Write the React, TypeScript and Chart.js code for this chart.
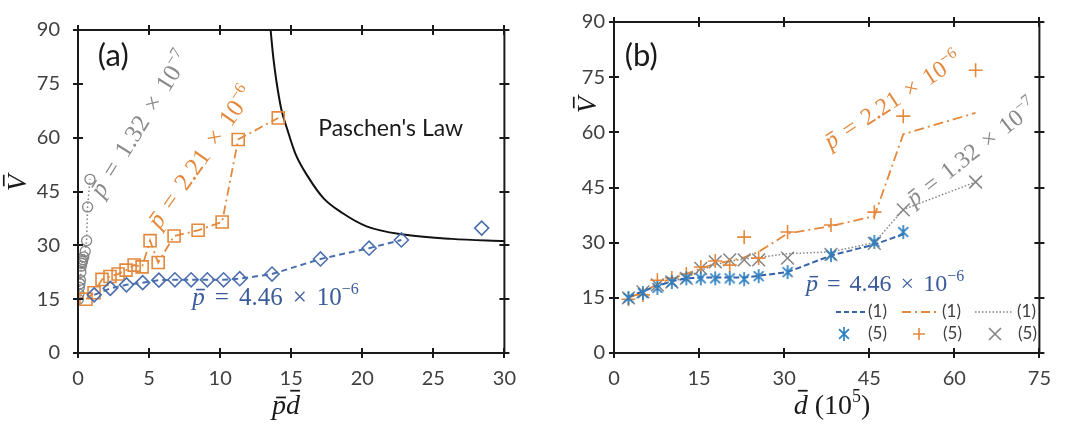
import React, { useEffect, useRef } from "react";
import { Chart, registerables } from "chart.js";

Chart.register(...registerables);

// ---------------- tick values ----------------
const xTicksA = [0, 5, 10, 15, 20, 25, 30];
const xTicksB = [0, 15, 30, 45, 60, 75];
const yTicks = [0, 15, 30, 45, 60, 75, 90];

// ---------------- panel (a): V vs p·d ----------------
const pdBlue = [1.14, 2.27, 3.41, 4.55, 5.69, 6.82, 7.96, 9.1, 10.24, 11.38, 13.65, 17.06, 20.48, 22.75];
const vBlue = [16.2, 18.0, 19.0, 19.6, 20.3, 20.4, 20.4, 20.4, 20.4, 20.7, 22.0, 26.2, 29.2, 31.5];
const pdBlueExtra = [28.4];
const vBlueExtra = [34.8];
const pdOrange = [0.56, 1.13, 1.69, 2.25, 2.82, 3.38, 3.95, 4.51, 5.07, 5.64, 6.76, 8.45, 10.14, 11.27, 14.09];
const vOrange = [15.0, 16.8, 20.5, 21.3, 22.0, 23.1, 24.5, 24.0, 31.3, 25.2, 32.6, 34.2, 36.5, 59.5, 65.5];
const pdGray = [0.034, 0.067, 0.101, 0.135, 0.168, 0.202, 0.236, 0.27, 0.303, 0.337, 0.404, 0.505, 0.606, 0.673, 0.842];
const vGray = [15.0, 16.5, 18.3, 19.3, 20.3, 22.5, 24.2, 25.0, 25.5, 26.0, 26.8, 28.3, 31.3, 40.7, 48.4];
const pdPaschen = [13.55, 13.75, 13.95, 14.3, 14.75, 15.3, 16.2, 17.3, 18.6, 20.3, 22.9, 26.3, 30.0];
const vPaschen = [90, 82, 76, 68, 62, 55.5, 49, 43, 39, 35.3, 33.0, 31.8, 31.2];

// ---------------- panel (b): V vs d ----------------
const dVals = [2.55, 5.1, 7.65, 10.2, 12.75, 15.3, 17.85, 20.4, 22.95, 25.5, 30.6, 38.25, 45.9, 51.0, 63.75];
const blueLine1 = [15.2, 16.8, 18.2, 19.5, 20.3, 20.5, 20.5, 20.5, 20.5, 21.0, 22.0, 26.5, 29.5, 32.3];
const blueMark5 = [15.0, 16.3, 17.7, 19.3, 20.3, 20.3, 20.3, 20.3, 20.1, 20.9, 22.0, 26.6, 30.2, 32.9];
const orangeLine1 = [15.0, 16.5, 18.8, 20.3, 21.5, 23.0, 24.3, 25.0, 26.0, 27.5, 32.5, 34.5, 37.2, 59.5, 65.3];
const orangeMark5 = [14.6, 15.8, 19.8, 20.4, 21.5, 23.4, 25.0, 23.9, 31.5, 25.8, 32.9, 34.8, 38.3, 64.4, 76.9];
const grayLine1 = [15.0, 16.6, 18.5, 19.5, 20.5, 22.5, 24.0, 25.0, 25.5, 26.0, 27.0, 27.5, 30.0, 39.0, 46.5];
const grayMark5 = [15.0, 16.6, 18.5, 19.3, 20.3, 23.0, 24.8, 25.3, 25.3, 25.3, 25.8, 26.8, 29.8, 38.9, 46.5];

// ---------------- styles ----------------
const FONT_UI = "Lato, 'Open Sans', sans-serif";
const FONT_MATH = "'Liberation Serif', 'DejaVu Serif', serif";
const TICK_COLOR = "#404040";
const BLUE_A = "#4b6fae";
const BLUE_TXT = "#3b5b9b";
const BLUE_B = "#2e7fc0";
const BLUE_B_LINE = "#3563aa";
const ORANGE = "#e4883c";
const GRAY = "#848484";
const GRAY_TXT = "#8a8a8a";

const pts = (xs: number[], ys: number[]) => ys.map((y, i) => ({ x: xs[i], y }));

type Part = { t?: string; italic?: boolean; bar?: number; sup?: boolean; gap?: number };
type Item = {
  x: number; y: number; px?: boolean; angle: number; parts: Part[];
  size: number; color: string; family: string;
};

function drawRich(ctx: CanvasRenderingContext2D, cx: number, cy: number, angle: number,
  parts: Part[], size: number, color: string, family: string) {
  ctx.save();
  ctx.translate(cx, cy);
  ctx.rotate((angle * Math.PI) / 180);
  ctx.fillStyle = color;
  ctx.strokeStyle = color;
  ctx.textBaseline = "alphabetic";
  ctx.textAlign = "left";
  const fontOf = (p: Part) => `${p.italic ? "italic " : ""}${p.sup ? Math.round(size * 0.65) : size}px ${family}`;
  const widths = parts.map((p) => {
    if (p.gap) return p.gap;
    ctx.font = fontOf(p);
    return ctx.measureText(p.t || "").width;
  });
  const total = widths.reduce((a, b) => a + b, 0);
  let x = -total / 2;
  const base = size * 0.33;
  parts.forEach((p, i) => {
    if (!p.gap) {
      ctx.font = fontOf(p);
      const y = p.sup ? base - size * 0.42 : base;
      ctx.fillText(p.t || "", x, y);
      if (p.bar) {
        const w = widths[i];
        ctx.lineWidth = Math.max(1, size / 16);
        ctx.beginPath();
        ctx.moveTo(x + w * 0.3, base - size * p.bar);
        ctx.lineTo(x + w * 1.0, base - size * p.bar);
        ctx.stroke();
      }
    }
    x += widths[i];
  });
  ctx.restore();
}

const pLabel = (val: string, exp: string, gap: number): Part[] => [
  { t: "p", italic: true, bar: 0.6 }, { gap }, { t: "=" }, { gap }, { t: val }, { gap },
  { t: "×" }, { gap }, { t: "10" }, { t: "−" + exp, sup: true },
];

function makeTextPlugin(items: Item[]) {
  return {
    id: "richText",
    afterDraw(chart: any) {
      const ctx = chart.ctx as CanvasRenderingContext2D;
      items.forEach((it) => {
        const cx = it.px ? it.x : chart.scales.x.getPixelForValue(it.x);
        const cy = it.px ? it.y : chart.scales.y.getPixelForValue(it.y);
        drawRich(ctx, cx, cy, it.angle, it.parts, it.size, it.color, it.family);
      });
    },
  };
}

const framePlugin = {
  id: "frameTicks",
  afterDraw(chart: any) {
    const ctx = chart.ctx as CanvasRenderingContext2D;
    const { left, right, top, bottom } = chart.chartArea;
    const xs = chart.scales.x;
    const ys = chart.scales.y;
    ctx.save();
    ctx.strokeStyle = "#1a1a1a";
    ctx.lineWidth = 2;
    ctx.beginPath();
    ctx.rect(left, top, right - left, bottom - top);
    const t = 5;
    xs.ticks.forEach((tk: any) => {
      const p = Math.round(xs.getPixelForValue(tk.value));
      ctx.moveTo(p, bottom - t); ctx.lineTo(p, bottom + t);
      ctx.moveTo(p, top - t); ctx.lineTo(p, top + t);
    });
    ys.ticks.forEach((tk: any) => {
      const p = Math.round(ys.getPixelForValue(tk.value));
      ctx.moveTo(left - t, p); ctx.lineTo(left + t, p);
      ctx.moveTo(right - t, p); ctx.lineTo(right + t, p);
    });
    ctx.stroke();
    ctx.restore();
  },
};

function makeAsterisk(color: string, size: number) {
  const c = document.createElement("canvas");
  c.width = size; c.height = size;
  const g = c.getContext("2d")!;
  g.strokeStyle = color; g.lineWidth = 1.7;
  const m = size / 2, r = size / 2 - 1;
  const dx = r * Math.cos(Math.PI / 4), dy = r * Math.sin(Math.PI / 4);
  g.beginPath();
  g.moveTo(m, m - r); g.lineTo(m, m + r);
  g.moveTo(m - dx, m - dy); g.lineTo(m + dx, m + dy);
  g.moveTo(m - dx, m + dy); g.lineTo(m + dx, m - dy);
  g.stroke();
  return c;
}

function makeLegendPlugin(star: HTMLCanvasElement) {
  return {
    id: "legendB",
    afterDraw(chart: any) {
      const ctx = chart.ctx as CanvasRenderingContext2D;
      const r1 = 312, r2 = 334;
      ctx.save();
      ctx.font = `17px ${FONT_UI}`;
      ctx.fillStyle = TICK_COLOR;
      ctx.textBaseline = "middle";
      const line = (x0: number, x1: number, color: string, dash: number[], w: number) => {
        ctx.save();
        ctx.strokeStyle = color; ctx.lineWidth = w; ctx.setLineDash(dash);
        ctx.beginPath(); ctx.moveTo(x0, r1); ctx.lineTo(x1, r1); ctx.stroke();
        ctx.restore();
      };
      line(306, 337, BLUE_B_LINE, [5, 3], 2);
      line(372, 410, ORANGE, [9, 4, 2, 4], 1.8);
      line(445, 483, GRAY, [1.5, 2], 1.5);
      ctx.fillText("(1)", 338, r1);
      ctx.fillText("(1)", 412, r1);
      ctx.fillText("(1)", 487, r1);
      ctx.drawImage(star, 314 - star.width / 2, r2 - star.height / 2);
      ctx.strokeStyle = ORANGE; ctx.lineWidth = 1.6;
      ctx.beginPath();
      ctx.moveTo(389 - 6, r2); ctx.lineTo(389 + 6, r2);
      ctx.moveTo(389, r2 - 6); ctx.lineTo(389, r2 + 6);
      ctx.stroke();
      ctx.strokeStyle = GRAY;
      ctx.beginPath();
      ctx.moveTo(465 - 6, r2 - 6); ctx.lineTo(465 + 6, r2 + 6);
      ctx.moveTo(465 - 6, r2 + 6); ctx.lineTo(465 + 6, r2 - 6);
      ctx.stroke();
      ctx.fillText("(5)", 338, r2);
      ctx.fillText("(5)", 413, r2);
      ctx.fillText("(5)", 488, r2);
      ctx.restore();
    },
  };
}

function scales(xTicks: number[], xMax: number, yWidth: number, yPad: number) {
  const tickFont = { family: FONT_UI, size: 20 };
  return {
    x: {
      type: "linear" as const, min: 0, max: xMax,
      afterBuildTicks: (s: any) => { s.ticks = xTicks.map((v) => ({ value: v })); },
      afterFit: (s: any) => { s.height = 75; },
      grid: { display: false, drawTicks: false },
      border: { display: false },
      ticks: { padding: 14, font: tickFont, color: TICK_COLOR, maxRotation: 0, autoSkip: false },
    },
    y: {
      type: "linear" as const, min: 0, max: 90,
      afterBuildTicks: (s: any) => { s.ticks = yTicks.map((v) => ({ value: v })); },
      afterFit: (s: any) => { s.width = yWidth; },
      grid: { display: false, drawTicks: false },
      border: { display: false },
      ticks: { padding: yPad, font: tickFont, color: TICK_COLOR, autoSkip: false },
    },
  };
}

const commonOpts = {
  responsive: false,
  animation: false as const,
  events: [] as any[],
  devicePixelRatio: 1,
};

function configA(): any {
  const items: Item[] = [
    { x: 2.48, y: 82.9, angle: 0, parts: [{ t: "(a)" }], size: 31, color: "#1a1a1a", family: FONT_UI },
    { x: 22.0, y: 62.5, angle: 0, parts: [{ t: "Paschen's Law" }], size: 23, color: "#1a1a1a", family: FONT_UI },
    { x: 4.34, y: 63.9, angle: -58, parts: pLabel("1.32", "7", 10), size: 25, color: GRAY_TXT, family: FONT_MATH },
    { x: 8.62, y: 54.6, angle: -55, parts: pLabel("2.21", "6", 10), size: 25, color: ORANGE, family: FONT_MATH },
    { x: 13.9, y: 15.8, angle: 0, parts: pLabel("4.46", "6", 10), size: 25, color: BLUE_TXT, family: FONT_MATH },
    { x: 17, y: 183, px: true, angle: -90, parts: [{ t: "V", italic: true, bar: 0.82 }], size: 27, color: "#1a1a1a", family: FONT_MATH },
    { x: 286, y: 405, px: true, angle: 0, parts: [{ t: "p", italic: true, bar: 0.6 }, { t: "d", italic: true, bar: 0.84 }], size: 28, color: "#1a1a1a", family: FONT_MATH },
  ];
  return {
    type: "scatter",
    data: {
      datasets: [
        {
          data: pts(pdBlue, vBlue), showLine: true, borderColor: BLUE_A, borderWidth: 2, borderDash: [6, 4],
          pointStyle: "rectRot", pointRadius: 7, pointBorderColor: BLUE_A, pointBorderWidth: 1.6,
          pointBackgroundColor: "rgba(0,0,0,0)", tension: 0,
        },
        {
          data: pts(pdBlueExtra, vBlueExtra), showLine: false,
          pointStyle: "rectRot", pointRadius: 7, pointBorderColor: BLUE_A, pointBorderWidth: 1.6,
          pointBackgroundColor: "rgba(0,0,0,0)",
        },
        {
          data: pts(pdOrange, vOrange), showLine: true, borderColor: ORANGE, borderWidth: 1.8, borderDash: [9, 4, 2, 4],
          pointStyle: "rect", pointRadius: 8.5, pointBorderColor: ORANGE, pointBorderWidth: 1.6,
          pointBackgroundColor: "rgba(0,0,0,0)", tension: 0,
        },
        {
          data: pts(pdGray, vGray), showLine: true, borderColor: GRAY, borderWidth: 1.5, borderDash: [1.5, 2.5],
          pointStyle: "circle", pointRadius: 5, pointBorderColor: GRAY, pointBorderWidth: 1.3,
          pointBackgroundColor: "rgba(0,0,0,0)", tension: 0,
        },
        {
          data: pts(pdPaschen, vPaschen), showLine: true, borderColor: "#111111", borderWidth: 2,
          pointRadius: 0, cubicInterpolationMode: "monotone",
        },
      ],
    },
    options: {
      ...commonOpts,
      layout: { padding: { top: 22, right: 17, left: 0, bottom: 0 } },
      plugins: { legend: { display: false }, tooltip: { enabled: false } },
      scales: scales(xTicksA, 30, 78, 18),
    },
    plugins: [framePlugin, makeTextPlugin(items)],
  };
}

function configB(): any {
  const star = makeAsterisk(BLUE_B, 16);
  const items: Item[] = [
    { x: 4.8, y: 80.7, angle: 0, parts: [{ t: "(b)" }], size: 31, color: "#1a1a1a", family: FONT_UI },
    { x: 49.1, y: 68.8, angle: -33, parts: pLabel("2.21", "6", 9), size: 24, color: ORANGE, family: FONT_MATH },
    { x: 63.0, y: 54.6, angle: -38, parts: pLabel("1.32", "7", 9), size: 24, color: GRAY_TXT, family: FONT_MATH },
    { x: 47.8, y: 19.0, angle: 0, parts: pLabel("4.46", "6", 9), size: 24, color: BLUE_TXT, family: FONT_MATH },
    { x: 57, y: 105, px: true, angle: -90, parts: [{ t: "V", italic: true, bar: 0.82 }], size: 27, color: "#1a1a1a", family: FONT_MATH },
    {
      x: 302, y: 405, px: true, angle: 0,
      parts: [{ t: "d", italic: true, bar: 0.84 }, { gap: 7 }, { t: "(10" }, { t: "5", sup: true }, { t: ")" }],
      size: 28, color: "#1a1a1a", family: FONT_MATH,
    },
  ];
  return {
    type: "scatter",
    data: {
      datasets: [
        {
          data: pts(dVals, blueMark5), showLine: false, pointStyle: star, pointRadius: 8,
        },
        {
          data: pts(dVals, orangeMark5), showLine: false, pointStyle: "cross", pointRadius: 7,
          pointBorderColor: ORANGE, pointBorderWidth: 1.6,
        },
        {
          data: pts(dVals, grayMark5), showLine: false, pointStyle: "crossRot", pointRadius: 9,
          pointBorderColor: GRAY, pointBorderWidth: 1.5,
        },
        {
          data: pts(dVals, blueLine1), showLine: true, borderColor: BLUE_B_LINE, borderWidth: 2,
          borderDash: [6, 3], pointRadius: 0, tension: 0,
        },
        {
          data: pts(dVals, orangeLine1), showLine: true, borderColor: ORANGE, borderWidth: 1.8,
          borderDash: [10, 4, 2, 4], pointRadius: 0, tension: 0,
        },
        {
          data: pts(dVals, grayLine1), showLine: true, borderColor: GRAY, borderWidth: 1.5,
          borderDash: [1.5, 2], pointRadius: 0, tension: 0,
        },
      ],
    },
    options: {
      ...commonOpts,
      layout: { padding: { top: 22, right: 15, left: 0, bottom: 0 } },
      plugins: { legend: { display: false }, tooltip: { enabled: false } },
      scales: scales(xTicksB, 75, 84, 9),
    },
    plugins: [framePlugin, makeTextPlugin(items), makeLegendPlugin(star)],
  };
}

export default function App() {
  const refA = useRef<HTMLCanvasElement>(null);
  const refB = useRef<HTMLCanvasElement>(null);
  useEffect(() => {
    const a = new Chart(refA.current!, configA());
    const b = new Chart(refB.current!, configB());
    return () => {
      a.destroy();
      b.destroy();
    };
  }, []);
  return (
    <div style={{ position: "fixed", left: 0, top: 0, width: 1065, height: 428, background: "#ffffff" }}>
      <canvas ref={refA} width={530} height={428}
        style={{ position: "absolute", left: 0, top: 0, width: 530, height: 428 }} />
      <canvas ref={refB} width={535} height={428}
        style={{ position: "absolute", left: 530, top: 0, width: 535, height: 428 }} />
    </div>
  );
}
